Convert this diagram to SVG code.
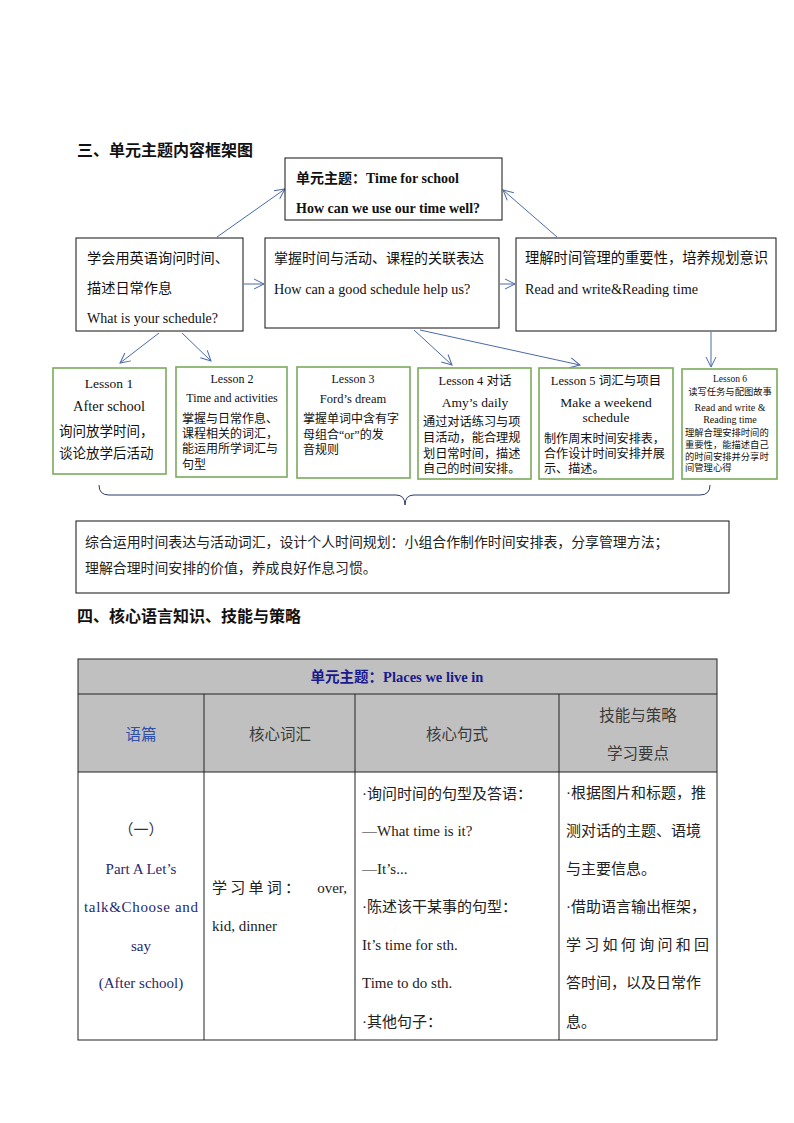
<svg xmlns="http://www.w3.org/2000/svg" width="794" height="1123" viewBox="0 0 794 1123">
<defs>
<style>
text{dominant-baseline:central;fill:#111}
.h{font-family:"Noto Sans CJK SC","Liberation Sans",sans-serif;font-weight:700;font-size:16px}
.cj{font-family:"Liberation Serif","Noto Sans CJK SC",serif}
.sf{font-family:"Liberation Serif","Noto Sans CJK SC",serif}
.box{fill:#fff;stroke:#111;stroke-width:1}
.les{fill:#fff;stroke:#7aaa5c;stroke-width:1.6}
.arr{stroke:#4a6aaa;stroke-width:1;fill:none;marker-end:url(#ah)}
.grid{stroke:#222;stroke-width:1;fill:none}
.hd{font-family:"Noto Sans CJK SC",sans-serif;font-size:15.5px;fill:#3a3a3a}
.bd{font-family:"Liberation Serif","Noto Sans CJK SC",serif;font-size:15px;fill:#222}
</style>
<marker id="ah" markerUnits="userSpaceOnUse" markerWidth="14" markerHeight="14" refX="11" refY="6" orient="auto">
<path d="M1,1 L11,6 L1,11" fill="none" stroke="#4a6aaa" stroke-width="1"/>
</marker>
</defs>
<rect width="794" height="1123" fill="#fff"/>

<text class="h" x="77" y="149">三、单元主题内容框架图</text>

<g id="connectors">
<line class="arr" x1="217" y1="237" x2="285" y2="189"/>
<line class="arr" x1="557" y1="237" x2="503" y2="190"/>
<line class="arr" x1="244" y1="284" x2="264" y2="284"/>
<line class="arr" x1="500" y1="284" x2="515" y2="284"/>
<line class="arr" x1="159" y1="333" x2="120" y2="363"/>
<line class="arr" x1="182" y1="333" x2="211" y2="361"/>
<line class="arr" x1="414" y1="330" x2="452" y2="365"/>
<line class="arr" x1="420" y1="330" x2="580" y2="365"/>
<line class="arr" x1="711" y1="332" x2="711" y2="367"/>
<path d="M99,485 Q99,495 109,495 L396,495 Q405,495 405,505 Q405,495 414,495 L700,495 Q710,495 710,485" fill="none" stroke="#2b3a67" stroke-width="1"/>
</g>

<g id="theme">
<rect class="box" x="285" y="158" width="217" height="62"/>
<text class="sf" x="296" y="178" font-size="14" font-weight="700">单元主题：Time for school</text>
<text class="sf" x="296" y="208" font-size="14" font-weight="700">How can we use our time well?</text>
</g>

<g id="goal1">
<rect class="box" x="76" y="238" width="167" height="93"/>
<text class="cj" x="87" y="258" font-size="14.2">学会用英语询问时间、</text>
<text class="cj" x="87" y="288" font-size="14.2">描述日常作息</text>
<text class="sf" x="87" y="318" font-size="14">What is your schedule?</text>
</g>

<g id="goal2">
<rect class="box" x="265" y="238" width="234" height="90"/>
<text class="cj" x="274" y="258" font-size="14">掌握时间与活动、课程的关联表达</text>
<text class="sf" x="274" y="289" font-size="14.2">How can a good schedule help us?</text>
</g>

<g id="goal3">
<rect class="box" x="516" y="238" width="260" height="93"/>
<text class="cj" x="525" y="258" font-size="14.3">理解时间管理的重要性，培养规划意识</text>
<text class="sf" x="525" y="289" font-size="14.2">Read and write&amp;Reading time</text>
</g>

<g id="lesson1">
<rect class="les" x="53" y="368" width="113" height="106"/>
<text class="sf" x="109" y="383" font-size="13.5" text-anchor="middle">Lesson 1</text>
<text class="sf" x="109" y="406" font-size="14.5" text-anchor="middle">After school</text>
<text class="cj" x="59" y="431" font-size="13.5">询问放学时间，</text>
<text class="cj" x="59" y="453" font-size="13.5">谈论放学后活动</text>
</g>

<g id="lesson2">
<rect class="les" x="176" y="367" width="111" height="110"/>
<text class="sf" x="232" y="379" font-size="12" text-anchor="middle">Lesson 2</text>
<text class="sf" x="232" y="398" font-size="12" text-anchor="middle">Time and activities</text>
<text class="cj" x="182" y="419" font-size="12">掌握与日常作息、</text>
<text class="cj" x="182" y="434" font-size="12">课程相关的词汇，</text>
<text class="cj" x="182" y="449" font-size="12">能运用所学词汇与</text>
<text class="cj" x="182" y="465" font-size="12">句型</text>
</g>

<g id="lesson3">
<rect class="les" x="297" y="367" width="113" height="111"/>
<text class="sf" x="353" y="379" font-size="12" text-anchor="middle">Lesson 3</text>
<text class="sf" x="353" y="399" font-size="12.5" text-anchor="middle">Ford’s dream</text>
<text class="cj" x="303" y="419" font-size="12">掌握单词中含有字</text>
<text class="cj" x="303" y="435" font-size="12">母组合“or”的发</text>
<text class="cj" x="303" y="450" font-size="12">音规则</text>
</g>

<g id="lesson4">
<rect class="les" x="418" y="368" width="113" height="111"/>
<text class="sf" x="475" y="381" font-size="12.5" text-anchor="middle">Lesson 4 对话</text>
<text class="sf" x="475" y="402" font-size="13.5" text-anchor="middle">Amy’s daily</text>
<text class="cj" x="423" y="422" font-size="12.2">通过对话练习与项</text>
<text class="cj" x="423" y="438" font-size="12.2">目活动，能合理规</text>
<text class="cj" x="423" y="454" font-size="12.2">划日常时间，描述</text>
<text class="cj" x="423" y="469" font-size="12.2">自己的时间安排。</text>
</g>

<g id="lesson5">
<rect class="les" x="539" y="368" width="134" height="111"/>
<text class="sf" x="606" y="381" font-size="12.5" text-anchor="middle">Lesson 5 词汇与项目</text>
<text class="sf" x="606" y="402" font-size="13.5" text-anchor="middle">Make a weekend</text>
<text class="sf" x="606" y="417" font-size="13.5" text-anchor="middle">schedule</text>
<text class="cj" x="544" y="439" font-size="12.1">制作周末时间安排表，</text>
<text class="cj" x="544" y="454" font-size="12.1">合作设计时间安排并展</text>
<text class="cj" x="544" y="469" font-size="12.1">示、描述。</text>
</g>

<g id="lesson6">
<rect class="les" x="682" y="369" width="95" height="110"/>
<text class="sf" x="730" y="379" font-size="9.5" text-anchor="middle">Lesson 6</text>
<text class="cj" x="730" y="392" font-size="9.3" text-anchor="middle">读写任务与配图故事</text>
<text class="sf" x="730" y="407" font-size="10" text-anchor="middle">Read and write &amp;</text>
<text class="sf" x="730" y="419" font-size="10" text-anchor="middle">Reading time</text>
<text class="cj" x="685" y="433" font-size="9.3">理解合理安排时间的</text>
<text class="cj" x="685" y="445" font-size="9.3">重要性，能描述自己</text>
<text class="cj" x="685" y="457" font-size="9.3">的时间安排并分享时</text>
<text class="cj" x="685" y="468" font-size="9.3">间管理心得</text>
</g>

<g id="summary">
<rect class="box" x="76" y="521" width="653" height="72"/>
<text class="cj" x="85" y="542" font-size="13.9" style="fill:#222">综合运用时间表达与活动词汇，设计个人时间规划：小组合作制作时间安排表，分享管理方法；</text>
<text class="cj" x="85" y="568" font-size="13.9" style="fill:#222">理解合理时间安排的价值，养成良好作息习惯。</text>
</g>

<text class="h" x="77" y="615">四、核心语言知识、技能与策略</text>

<g id="table">
<rect x="78" y="659" width="639" height="113" fill="#c0c0c0"/>
<rect class="grid" x="78" y="659" width="639" height="381"/>
<line class="grid" x1="78" y1="694" x2="717" y2="694"/>
<line class="grid" x1="78" y1="772" x2="717" y2="772"/>
<line class="grid" x1="204" y1="694" x2="204" y2="1040"/>
<line class="grid" x1="355" y1="694" x2="355" y2="1040"/>
<line class="grid" x1="559" y1="694" x2="559" y2="1040"/>
<text class="sf" x="397" y="677" font-size="14.5" font-weight="700" text-anchor="middle" style="fill:#1a1a8c">单元主题：Places we live in</text>
<text class="hd" x="141" y="733" text-anchor="middle" style="fill:#2f4fa8">语篇</text>
<text class="hd" x="280" y="733" text-anchor="middle">核心词汇</text>
<text class="hd" x="457" y="733" text-anchor="middle">核心句式</text>
<text class="hd" x="638" y="714" text-anchor="middle">技能与策略</text>
<text class="hd" x="638" y="752" text-anchor="middle">学习要点</text>

<text class="bd" x="141" y="830" text-anchor="middle" style="fill:#333">（一）</text>
<text class="bd" x="141" y="869" text-anchor="middle" font-size="16" style="fill:#1f2a6e">Part A Let’s</text>
<text class="bd" x="84" y="907" font-size="16" textLength="114" lengthAdjust="spacing" style="fill:#1f2a6e">talk&amp;Choose  and</text>
<text class="bd" x="141" y="946" text-anchor="middle" font-size="16" style="fill:#1f2a6e">say</text>
<text class="bd" x="141" y="983" text-anchor="middle" font-size="16" style="fill:#1f2a6e">(After  school)</text>

<text class="bd" x="212" y="888" textLength="88" lengthAdjust="spacing">学习单词：</text>
<text class="bd" x="347" y="888" text-anchor="end" font-size="15">over,</text>
<text class="bd" x="212" y="926" font-size="15">kid, dinner</text>

<text class="bd" x="362" y="794">·询问时间的句型及答语：</text>
<text class="bd" x="362" y="831" font-size="15">—What  time  is  it?</text>
<text class="bd" x="362" y="869" font-size="15">—It’s...</text>
<text class="bd" x="362" y="907">·陈述该干某事的句型：</text>
<text class="bd" x="362" y="945" font-size="15">It’s time  for  sth.</text>
<text class="bd" x="362" y="983" font-size="15">Time  to do sth.</text>
<text class="bd" x="362" y="1022">·其他句子：</text>

<text class="bd" x="566" y="793">·根据图片和标题，推</text>
<text class="bd" x="566" y="831">测对话的主题、语境</text>
<text class="bd" x="566" y="869">与主要信息。</text>
<text class="bd" x="566" y="907">·借助语言输出框架，</text>
<text class="bd" x="566" y="945" textLength="143" lengthAdjust="spacing">学习如何询问和回</text>
<text class="bd" x="566" y="983">答时间，以及日常作</text>
<text class="bd" x="566" y="1022">息。</text>
</g>
</svg>
